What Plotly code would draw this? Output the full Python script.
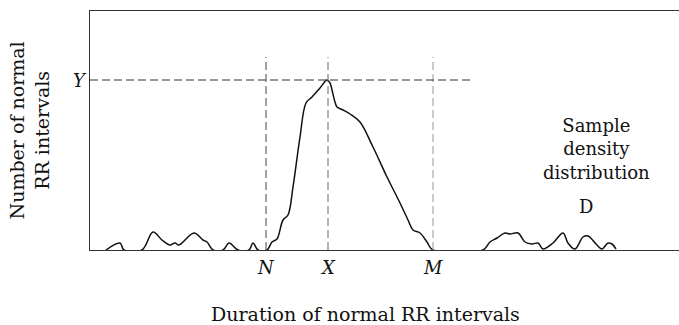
import plotly.graph_objects as go

# Curve (x: duration units, y: count units)
curve_x = [16, 30, 34, 52, 63, 72, 80, 85, 89, 104, 113, 117, 123, 133, 139, 148, 159, 163, 168, 177,
           182, 187, 193, 198, 203, 210, 216, 222, 230, 237, 240, 242, 245, 247, 253, 260, 270, 283,
           297, 310, 318, 323, 330, 337, 343, 393, 400, 407, 415, 420, 428, 435, 442, 448, 453, 463,
           473, 478, 485, 493, 498, 507, 512, 518, 522, 526]
curve_y = [0, 7, 0, 0, 18, 10, 5, 7, 5, 17, 10, 8, 0, 0, 7, 0, 0, 7, 0, 0,
           8, 11, 30, 35, 63, 113, 147, 153, 162, 170, 167, 160, 148, 143, 140, 136, 128, 103,
           73, 47, 30, 20, 17, 8, 0, 0, 8, 12, 17, 16, 17, 8, 6, 7, 1, 7,
           17, 7, 1, 13, 14, 5, 1, 7, 6, 1]

# Reference marks
mark_labels = ["N", "X", "M"]
mark_x = [176, 238, 343]
peak_label = "Y"
peak_y = 170
guide_top = 193
hline_end = 380
x_max = 589
y_max = 239

fig = go.Figure()
fig.add_trace(go.Scatter(x=curve_x, y=curve_y, mode="lines",
                         line=dict(color="#111111", width=1.5, shape="spline", smoothing=1.0),
                         hoverinfo="skip", showlegend=False))

serif = "DejaVu Serif"
ink = "#111111"
dash_colors = ["#444444", "#666666", "#999999"]
shapes = []
for mx, c in zip(mark_x, dash_colors):
    shapes.append(dict(type="line", xref="x", yref="y", x0=mx, x1=mx, y0=0, y1=guide_top,
                       line=dict(color=c, width=1, dash="8px,4px")))
shapes.append(dict(type="line", xref="x", yref="y", x0=0, x1=hline_end, y0=peak_y, y1=peak_y,
                   line=dict(color="#333333", width=1, dash="8px,4px")))

annotations = []
for lab, mx in zip(mark_labels, mark_x):
    annotations.append(dict(x=mx, y=0, xref="x", yref="y", text=f"<i>{lab}</i>", showarrow=False,
                            xanchor="center", yanchor="middle",
                            yshift=-17, font=dict(family=serif, size=18, color=ink)))
annotations.append(dict(x=0, y=peak_y, xref="x", yref="y", text=f"<i>{peak_label}</i>", showarrow=False,
                        xshift=-10, xanchor="center", yanchor="middle",
                        font=dict(family=serif, size=18, color=ink)))
annotations.append(dict(x=506, y=101, xref="x", yref="y",
                        text="Sample<br>density<br>distribution", showarrow=False,
                        xanchor="center", yanchor="middle",
                        font=dict(family=serif, size=18, color=ink)))
annotations.append(dict(x=496, y=44, xref="x", yref="y", text="D", showarrow=False,
                        xanchor="center", yanchor="middle",
                        font=dict(family=serif, size=18, color=ink)))
annotations.append(dict(x=0.467, y=-0.268, xref="paper", yref="paper",
                        text="Duration of normal RR intervals",
                        xanchor="center", yanchor="middle",
                        showarrow=False, font=dict(family=serif, size=19, color=ink)))
annotations.append(dict(x=-0.102, y=0.5, xref="paper", yref="paper",
                        text="Number of normal<br>RR intervals",
                        xanchor="center", yanchor="middle",
                        showarrow=False, textangle=-90, font=dict(family=serif, size=19, color=ink)))

fig.update_layout(
    width=679, height=325,
    margin=dict(l=90, r=0, t=11, b=75),
    paper_bgcolor="white", plot_bgcolor="white",
    shapes=shapes, annotations=annotations,
    xaxis=dict(range=[0, x_max], showgrid=False, zeroline=False, showticklabels=False, ticks="",
               showline=True, mirror=True, linecolor="#333333", linewidth=1),
    yaxis=dict(range=[0, y_max], showgrid=False, zeroline=False, showticklabels=False, ticks="",
               showline=True, linecolor="#333333", linewidth=1),
)

fig.write_html("out.html")
